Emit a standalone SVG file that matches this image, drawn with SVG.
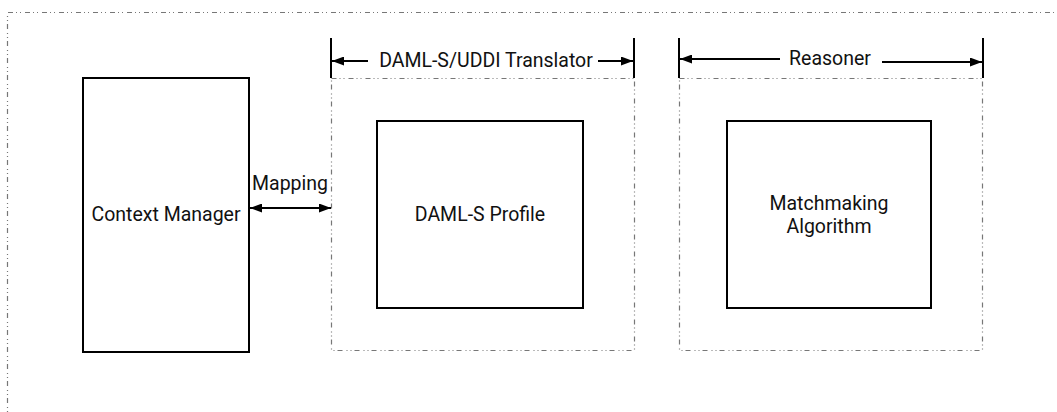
<svg xmlns="http://www.w3.org/2000/svg" width="1057" height="412" viewBox="0 0 1057 412">
<style>
.frame{fill:none;stroke:#777;stroke-width:1.2;stroke-dasharray:5 3 1 3 1 4}
.box{fill:#fff;stroke:#000;stroke-width:2}
.bar{stroke:#000;stroke-width:2}
.ln{stroke:#000;stroke-width:2;fill:none}
text{font-family:Roboto,"Noto Sans",sans-serif;font-size:19.5px;fill:#111;text-anchor:middle}
</style>
<defs>
<marker id="ah" viewBox="0 0 12 9" refX="12" refY="4.5" markerWidth="12" markerHeight="9" markerUnits="userSpaceOnUse" orient="auto-start-reverse">
<path d="M0,0 L12,4.5 L0,9 Z" fill="#000"/>
</marker>
</defs>
<rect x="0" y="0" width="1057" height="412" fill="#fff"/>
<g id="frame">
<path class="frame" d="M7.5,420 V12.5 H1070"/>
</g>
<g id="translator">
<rect class="frame" x="331.5" y="78.5" width="303" height="272"/>
<line class="bar" x1="331" y1="38" x2="331" y2="78"/>
<line class="bar" x1="634" y1="38" x2="634" y2="78"/>
<text x="486" y="67">DAML-S/UDDI Translator</text>
</g>
<g id="reasoner">
<rect class="frame" x="679.5" y="78.5" width="303" height="272"/>
<line class="bar" x1="679" y1="38" x2="679" y2="78"/>
<line class="bar" x1="983" y1="38" x2="983" y2="78"/>
<text x="830" y="65">Reasoner</text>
</g>
<g id="context-manager">
<rect class="box" x="83" y="78" width="166" height="274"/>
<text x="166" y="221">Context Manager</text>
</g>
<g id="daml-s-profile">
<rect class="box" x="377" y="121" width="206" height="187"/>
<text x="480" y="221">DAML-S Profile</text>
</g>
<g id="matchmaking">
<rect class="box" x="727" y="121" width="204" height="187"/>
<text x="829" y="210">Matchmaking</text>
<text x="829" y="233">Algorithm</text>
</g>
<g id="connectors">
<line class="ln" x1="368" y1="61" x2="332" y2="61" marker-end="url(#ah)"/>
<line class="ln" x1="598" y1="61" x2="633" y2="61" marker-end="url(#ah)"/>
<line class="ln" x1="780" y1="59" x2="680" y2="59" marker-end="url(#ah)"/>
<line class="ln" x1="882" y1="62" x2="982" y2="62" marker-end="url(#ah)"/>
<line class="ln" x1="250" y1="208" x2="331" y2="208" marker-start="url(#ah)" marker-end="url(#ah)"/>
<text x="290" y="190">Mapping</text>
</g>
</svg>
